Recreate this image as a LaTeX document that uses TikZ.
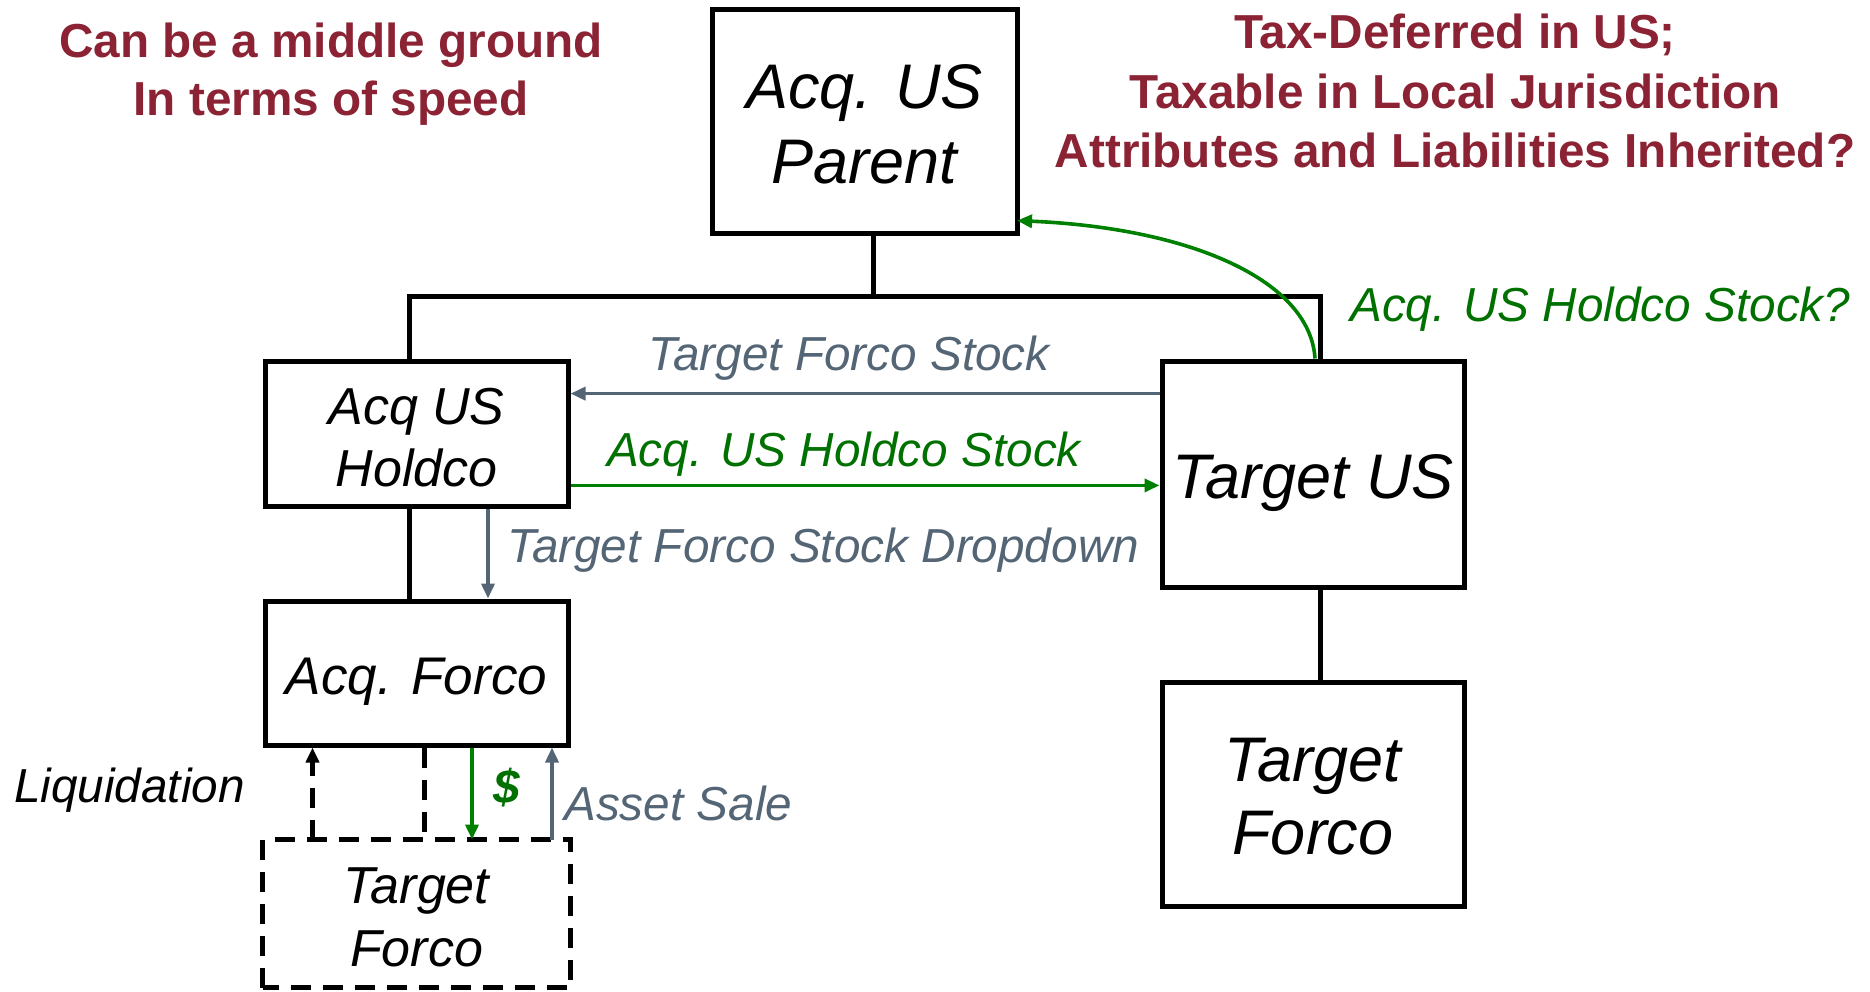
\documentclass[tikz,border=0pt]{standalone}
\usepackage{fontspec}
\setmainfont{Liberation Sans}
\usetikzlibrary{arrows.meta}
\definecolor{myred}{RGB}{139,35,52}
\definecolor{mygreen}{RGB}{0,128,0}
\definecolor{mygtext}{RGB}{0,112,0}
\definecolor{mygray}{RGB}{84,101,117}
\begin{document}
\begin{tikzpicture}[x=1pt,y=-1pt,
  box/.style={draw=black, line width=5pt, inner sep=0pt},
  btxt/.style={inner sep=0pt, align=center},
  bigtxt/.style={btxt, font=\itshape\fontsize{63}{75}\selectfont},
  midtxt/.style={btxt, font=\itshape\fontsize{52}{62}\selectfont},
  lab/.style={inner sep=0pt, font=\itshape\fontsize{47.7}{57}\selectfont},
  redtxt/.style={inner sep=0pt, align=center, text=myred},
  tree/.style={draw=black, line width=5pt},
  gar/.style={draw=mygray, line width=3.6pt, -{Triangle[length=15pt,width=13pt]}},
  gre/.style={draw=mygreen, line width=3.6pt, -{Triangle[length=15pt,width=13pt]}},
  dsh/.style={draw=black, line width=4.2pt, dash pattern=on 20pt off 12pt}
]
\useasboundingbox (0,0) rectangle (1870,991);

% boxes
\node[box, minimum width=305pt, minimum height=224pt] (parent) at (864.5,121.7) {};
\node[box, minimum width=303pt, minimum height=145pt] (holdco) at (416.5,433.5) {};
\node[box, minimum width=303pt, minimum height=144pt] (acqf) at (416.5,673) {};
\node[box, minimum width=302pt, minimum height=226pt] (tus) at (1313,474) {};
\node[box, minimum width=302pt, minimum height=224pt] (tforco) at (1313,794) {};
\node[box, draw=none, minimum width=303pt, minimum height=143pt] (tf2) at (416.5,913.5) {};
\draw[dsh] (tf2.south west) rectangle (tf2.north east);

% box texts
\node[bigtxt] (parentT) at ([yshift=-3pt]parent.center) {Acq. US\\Parent};
\node[midtxt] (holdcoT) at ([yshift=-4pt]holdco.center) {Acq US\\Holdco};
\node[btxt, font=\itshape\fontsize{53}{62}\selectfont] (acqfT) at ([yshift=-9pt]acqf.center) {Acq. Forco};
\node[bigtxt] (tusT) at ([yshift=-9pt]tus.center) {Target US};
\node[btxt, font=\itshape\fontsize{63}{73}\selectfont] (tforcoT) at ([yshift=-3pt]tforco.center) {Target\\Forco};
\node[btxt, font=\itshape\fontsize{52}{63}\selectfont] (tf2T) at ([yshift=-4pt]tf2.center) {Target\\Forco};

% tree lines
\coordinate (bar) at (873,296);
\coordinate (hl) at (409,296);
\coordinate (tr) at (1320,296);
\draw[tree] (bar |- parent.south) -- (bar);
\draw[tree] (hl |- holdco.north) -- (hl) -- (tr) -- (tr |- tus.north);
\draw[tree] (hl |- holdco.south) -- (hl |- acqf.north);
\draw[tree] (tr |- tus.south) -- (tr |- tforco.north);

% horizontal arrows
\draw[gar] (tus.west |- 0,393.6) -- (holdco.east |- 0,393.6);
\draw[gre] (holdco.east |- 0,485.4) -- (tus.west |- 0,485.4);
% dropdown
\draw[gar] (488,0 |- holdco.south) -- (488,0 |- acqf.north);
% liquidation
\draw[dsh, -{Triangle[length=15pt,width=13pt]}] (312.5,0 |- tf2.north) -- (312.5,0 |- acqf.south);
\draw[dsh] (424.5,0 |- acqf.south) -- (424.5,0 |- tf2.north);
% $ and asset sale
\draw[gre] (472,0 |- acqf.south) -- (472,0 |- tf2.north);
\draw[gar] (552,0 |- tf2.north) -- (552,0 |- acqf.south);
% curved
\coordinate (pe) at (1017,220.6);
\draw[gre] (1315,0 |- tus.north) .. controls (1310,280) and (1190,228) .. (pe);

% labels
\node[lab, text=mygray] (tfs) at (849,358) {Target Forco Stock};
\node[lab, text=mygtext] (ahs) at (844,454) {Acq. US Holdco Stock};
\node[lab, text=mygray, anchor=west] (drop) at (507,550) {Target Forco Stock Dropdown};
\node[lab, text=mygtext, anchor=west] (ahsq) at (1350,309) {Acq. US Holdco Stock?};
\node[lab, anchor=west] (liq) at (14,790) {Liquidation};
\node[lab, text=mygtext, font=\bfseries\itshape\fontsize{47.7}{57}\selectfont] (dol) at (507,788) {\$};
\node[lab, text=mygray, anchor=west] (as) at (564,803) {Asset Sale};

\node[redtxt, font=\bfseries\fontsize{47.7}{57.5}\selectfont] (r1) at (331,74) {Can be a middle ground\\In terms of speed};
\node[redtxt, font=\bfseries\fontsize{47.7}{59.3}\selectfont] (r2) at (1455,91) {Tax-Deferred in US;\\Taxable in Local Jurisdiction\\Attributes and Liabilities Inherited?};
\end{tikzpicture}
\end{document}
